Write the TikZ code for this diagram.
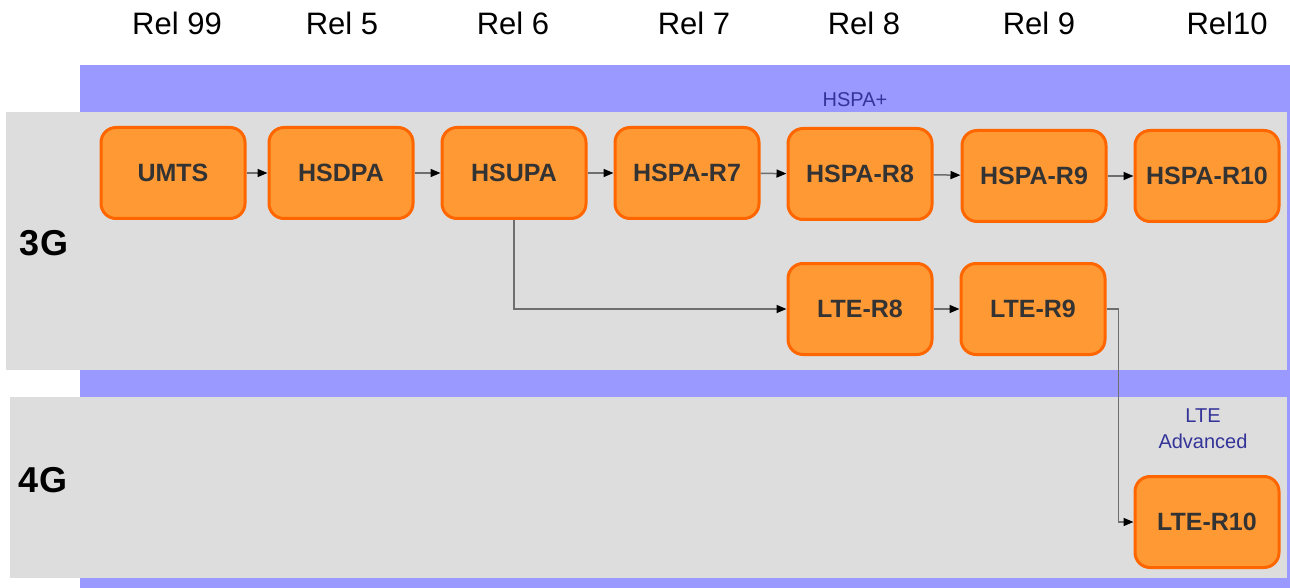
\documentclass[tikz,border=0pt]{standalone}
\usepackage{fontspec}
\setmainfont{Liberation Sans}
\usetikzlibrary{arrows.meta}
\definecolor{bandblue}{HTML}{9999FF}
\definecolor{bandgrey}{HTML}{DDDDDD}
\definecolor{boxfill}{HTML}{FF9933}
\definecolor{boxline}{HTML}{FF6600}
\definecolor{boxtext}{HTML}{333333}
\definecolor{tagblue}{HTML}{333399}
\definecolor{linkgrey}{HTML}{6E6E6E}
\tikzset{
  relbox/.style={draw=boxline, fill=boxfill, line width=3pt, rounded corners=15pt,
    minimum width=144pt, minimum height=91pt, inner sep=0pt,
    text=boxtext, font=\fontsize{25}{30}\selectfont\bfseries},
  rellabel/.style={font=\fontsize{31}{36}\selectfont, text=black},
  genlabel/.style={font=\fontsize{36}{40}\selectfont\bfseries, text=black},
  taglabel/.style={font=\fontsize{20}{26}\selectfont, text=tagblue, align=center},
  link/.style={draw=linkgrey, line width=1.5pt,
    -{Triangle[length=10pt,width=8pt,color=black]}}
}
\begin{document}
\begin{tikzpicture}[x=1pt,y=-1pt]
\useasboundingbox (0,0) rectangle (1290,588);
\fill[white] (0,0) rectangle (1290,588);
% background bands
\fill[bandblue] (80,65) rectangle (1290,588);
\fill[bandgrey] (6,112) rectangle (1287,370);
\fill[bandgrey] (10,397) rectangle (1287,578);

% release headings
\node[rellabel] (r99) at (177,23) {Rel 99};
\node[rellabel] (r5)  at (342,23) {Rel 5};
\node[rellabel] (r6)  at (513,23) {Rel 6};
\node[rellabel] (r7)  at (694,23) {Rel 7};
\node[rellabel] (r8)  at (864,23) {Rel 8};
\node[rellabel] (r9)  at (1039,23) {Rel 9};
\node[rellabel] (r10) at (1227,23) {Rel10};

% generation labels
\node[genlabel] (g3) at (44,243) {3G};
\node[genlabel] (g4) at (43,480) {4G};

% family tags
\node[taglabel] (hspap) at (855,100) {HSPA+};
\node[taglabel, inner sep=0pt] (ltea) at (1203,429) {LTE\\Advanced};

% releases
\node[relbox] (umts)  at (173,173) {UMTS};
\node[relbox] (hsdpa) at (341,173) {HSDPA};
\node[relbox] (hsupa) at (514,173) {HSUPA};
\node[relbox] (h7)    at (687,173) {HSPA-R7};
\node[relbox] (h8)    at (860,174) {HSPA-R8};
\node[relbox] (h9)    at (1034,176) {HSPA-R9};
\node[relbox] (h10)   at (1207,176) {HSPA-R10};
\node[relbox] (l8)    at (860,309) {LTE-R8};
\node[relbox] (l9)    at (1033,309) {LTE-R9};
\node[relbox] (l10)   at (1207,522) {LTE-R10};

% evolution paths
\draw[link] (umts) -- (hsdpa);
\draw[link] (hsdpa) -- (hsupa);
\draw[link] (hsupa) -- (h7);
\draw[link] (h7) -- (h8);
\draw[link] (h8) -- (h9);
\draw[link] (h9) -- (h10);
\draw[link] (hsupa.south) |- (l8.west);
\draw[link] (l8) -- (l9);
\draw[link] (l9.east) -- ++(12,0) |- (l10.west);
\end{tikzpicture}
\end{document}
